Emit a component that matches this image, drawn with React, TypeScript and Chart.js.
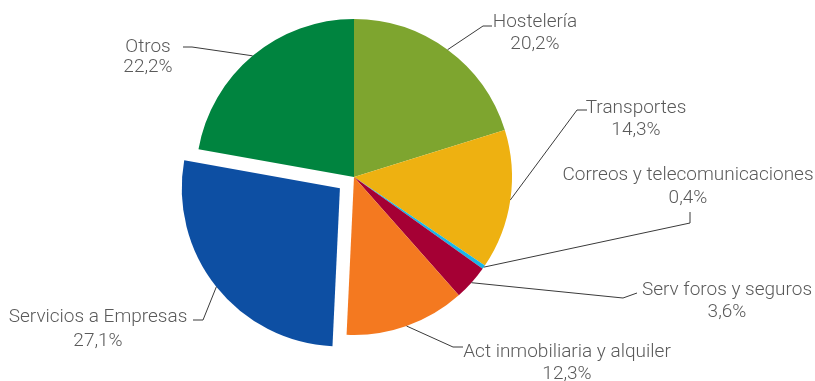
import React, { useEffect, useRef } from "react";
import { Chart, registerables } from "chart.js";

Chart.register(...registerables);

const categories = [
  "Hostelería",
  "Transportes",
  "Correos y telecomunicaciones",
  "Serv foros y seguros",
  "Act inmobiliaria y alquiler",
  "Servicios a Empresas",
  "Otros",
];
const shares = [20.2, 14.3, 0.4, 3.6, 12.3, 27.1, 22.2];
const shareLabels = ["20,2%", "14,3%", "0,4%", "3,6%", "12,3%", "27,1%", "22,2%"];
const sliceColors = ["#7EA52F", "#EEB111", "#19B5E8", "#A50034", "#F47920", "#0D4FA3", "#00843F"];
// Chart.js v4 translates an arc by offset / 4
const sliceOffsets = [0, 0, 0, 0, 0, 72, 0];

// Label layout: knee point, end point of leader line, text centre x, baselines of the two lines
const labelLayout = [
  { knee: [483, 26], end: [492, 26], tx: 535, b1: 27, b2: 49 },
  { knee: [577, 110], end: [587, 110], tx: 636, b1: 113, b2: 135 },
  { knee: [690, 223], end: [690, 212], tx: 688, b1: 180, b2: 203 },
  { knee: [623, 298], end: [637, 293], tx: 727, b1: 295, b2: 317 },
  { knee: [453, 347], end: [463, 347], tx: 567, b1: 357, b2: 379 },
  { knee: [203, 320], end: [193, 320], tx: 98, b1: 322, b2: 346 },
  { knee: [192, 47], end: [183, 47], tx: 148, b1: 52, b2: 72 },
];

const labelPlugin = {
  id: "pieLabels",
  afterDraw(chart: any) {
    const ctx = chart.ctx;
    const meta = chart.getDatasetMeta(0);
    ctx.save();
    meta.data.forEach((el: any, i: number) => {
      const p = el.getProps(["x", "y", "startAngle", "endAngle", "outerRadius"], true);
      const mid = (p.startAngle + p.endAngle) / 2;
      const off = ((el.options && el.options.offset) || 0) / 4;
      const r = p.outerRadius + off;
      const sx = p.x + Math.cos(mid) * r;
      const sy = p.y + Math.sin(mid) * r;
      const L = labelLayout[i];
      ctx.beginPath();
      ctx.strokeStyle = "#3a3a3a";
      ctx.lineWidth = 1;
      ctx.moveTo(sx, sy);
      ctx.lineTo(L.knee[0], L.knee[1]);
      ctx.lineTo(L.end[0], L.end[1]);
      ctx.stroke();
      ctx.fillStyle = "#5a5a5a";
      ctx.font = "300 19px Roboto";
      ctx.textAlign = "center";
      ctx.textBaseline = "alphabetic";
      ctx.fillText(categories[i], L.tx, L.b1);
      ctx.fillText(shareLabels[i], L.tx, L.b2);
    });
    ctx.restore();
  },
};

export default function App() {
  const ref = useRef<HTMLCanvasElement>(null);
  useEffect(() => {
    if (!ref.current) return;
    const chart = new Chart(ref.current, {
      type: "pie",
      data: {
        labels: categories,
        datasets: [
          {
            data: shares,
            backgroundColor: sliceColors,
            borderWidth: 0,
            offset: sliceOffsets,
          },
        ],
      },
      options: {
        responsive: false,
        animation: false,
        radius: 158,
        layout: { padding: { left: 0, right: 107, top: 0, bottom: 27 } },
        plugins: { legend: { display: false }, tooltip: { enabled: false } },
      } as any,
      plugins: [labelPlugin],
    });
    return () => chart.destroy();
  }, []);
  return (
    <div style={{ position: "absolute", left: 0, top: 0, width: 815, height: 381, background: "#fff" }}>
      <canvas ref={ref} width={815} height={381} />
    </div>
  );
}
